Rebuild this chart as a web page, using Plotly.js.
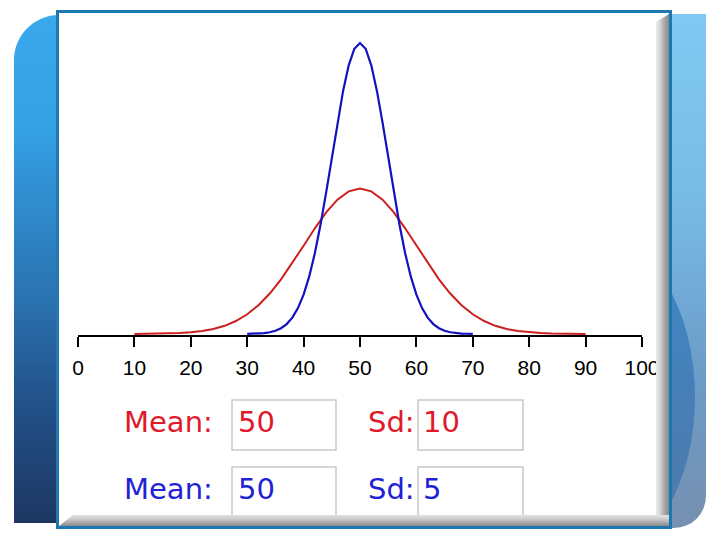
<!DOCTYPE html>
<html>
<head>
<meta charset="utf-8">
<script src="https://cdn.plot.ly/plotly-3.0.1.min.js"></script>
<style>
  html, body { margin:0; padding:0; background:#ffffff; }
  #wrap { position:relative; width:720px; height:540px; overflow:hidden; background:#ffffff; }
  .abs { position:absolute; }
  #leftShape { left:14px; top:15px; width:50px; height:508px; border-top-left-radius:45px;
    background:linear-gradient(to bottom, #3aa8ec 0%, #35a2e6 22%, #3190d2 34%, #2a72b0 56%, #22518a 76%, #1d3762 100%); }
  #rightShape { left:664px; top:14px; width:42px; height:514px; border-bottom-right-radius:32px; overflow:hidden;
    background:linear-gradient(to bottom, #80c9f2 0%, #78bce6 35%, #6c9cc8 70%, #7690b0 100%); }
  #crescent { left:-159px; top:225px; width:190px; height:316px; border-radius:50%;
    background:linear-gradient(to bottom, #3a88c8 0%, #4680b8 45%, #5078a6 100%); }
  #frame { left:56px; top:10px; width:616px; height:519px; box-sizing:border-box;
    border:3px solid #1b78b0; background:#ffffff; }
  #plot { left:0; top:0; width:720px; height:540px; z-index:1; }
  #bevelR { left:656px; top:14px; width:13px; height:512px; z-index:2; pointer-events:none;
    background:linear-gradient(to right, #ececec 0%, #d6d6d6 30%, #b4b4b4 55%, #9a9a9a 80%, #8c8c8c 100%);
    clip-path:polygon(0 8px, 100% 0, 100% 100%, 0 100%); }
  #bevelB { left:59px; top:515px; width:610px; height:11px; z-index:2; pointer-events:none;
    background:linear-gradient(to bottom, #e2e2e2 0%, #cdcdcd 35%, #a8a8a8 70%, #8a8a8a 100%);
    clip-path:polygon(14px 0, 100% 0, 100% 100%, 0 100%); }
</style>
</head>
<body>
<div id="wrap">
  <div id="leftShape" class="abs"></div>
  <div id="rightShape" class="abs"><div id="crescent" class="abs"></div></div>
  <div id="frame" class="abs"></div>
  <div id="plot" class="abs"></div>
  <div id="bevelR" class="abs"></div>
  <div id="bevelB" class="abs"></div>
</div>
<script>
// ---- data ----
// Red curve (Mean 50, Sd 10), density x1000
const redX = [10,12,14,16,18,20,22,24,26,28,30,32,34,36,38,40,42,44,46,48,50,
              52,54,56,58,60,62,64,66,68,70,72,74,76,78,80,82,84,86,88,90];
const redY = [0.013,0.029,0.061,0.123,0.238,0.443,0.792,1.358,2.239,3.547,5.399,
              7.895,11.092,14.973,19.419,24.197,28.969,33.322,36.827,39.104,39.894,
              39.104,36.827,33.322,28.969,24.197,19.419,14.973,11.092,7.895,5.399,
              3.547,2.239,1.358,0.792,0.443,0.238,0.123,0.061,0.029,0.013];
// Blue curve (Mean 50, Sd 5), density x1000
const blueX = [30,31,32,33,34,35,36,37,38,39,40,41,42,43,44,45,46,47,48,49,50,
               51,52,53,54,55,56,57,58,59,60,61,62,63,64,65,66,67,68,69,70];
const blueY = [0.027,0.058,0.122,0.246,0.477,0.886,1.583,2.716,4.478,7.094,10.798,
               15.790,22.184,29.945,38.837,48.394,57.938,66.645,73.654,78.209,79.788,
               78.209,73.654,66.645,57.938,48.394,38.837,29.945,22.184,15.790,10.798,
               7.094,4.478,2.716,1.583,0.886,0.477,0.246,0.122,0.058,0.027];
const tickVals = [0,10,20,30,40,50,60,70,80,90,100];
const tickText = ['0','10','20','30','40','50','60','70','80','90','100'];
const formLabels = ['Mean:', 'Sd:'];
const redValues = ['50', '10'];
const blueValues = ['50', '5'];

// ---- layout helpers (pixel -> paper) ----
const L = 78, R = 642, T = 20, B = 335;
const px = x => (x - L) / (R - L);
const py = y => (B - y) / (B - T);

const RED = '#cc1f1f', BLUE = '#1212c0';
const RED_T = '#e0192a', BLUE_T = '#2222d4';

const traces = [
  {x: redX, y: redY, type: 'scatter', mode: 'lines', line: {color: RED, width: 2}, hoverinfo: 'skip'},
  {x: blueX, y: blueY, type: 'scatter', mode: 'lines', line: {color: BLUE, width: 2.2}, hoverinfo: 'skip'}
];

const boxes = [[232,336,400,450],[418,523,400,450],[232,336,467,522],[418,523,467,522]];
const shapes = boxes.map(b => ({
  type: 'rect', xref: 'paper', yref: 'paper',
  x0: px(b[0]), x1: px(b[1]), y0: py(b[2]), y1: py(b[3]),
  line: {color: '#c9c9c9', width: 1.5}, fillcolor: '#ffffff', layer: 'below'
}));

const ann = [];
function addText(t, x, y, color) {
  ann.push({text: t, xref: 'paper', yref: 'paper', x: px(x), y: py(y),
    xanchor: 'left', yanchor: 'middle', showarrow: false,
    font: {family: 'DejaVu Sans', size: 29, color: color}});
}
const rowY = [422, 489];
const colX = [[122, 236], [366, 421]];
formLabels.forEach((lab, i) => {
  addText(lab, colX[i][0], rowY[0], RED_T);
  addText(redValues[i], colX[i][1], rowY[0], RED_T);
  addText(lab, colX[i][0], rowY[1], BLUE_T);
  addText(blueValues[i], colX[i][1], rowY[1], BLUE_T);
});

const ymin = -0.28, scale = 79.788 / 291;
const layout = {
  width: 720, height: 540,
  margin: {l: L, r: 720 - R, t: T, b: 540 - B, pad: 0},
  paper_bgcolor: 'rgba(0,0,0,0)', plot_bgcolor: 'rgba(0,0,0,0)',
  showlegend: false,
  xaxis: {
    range: [0, 100], tickvals: tickVals, ticktext: tickText,
    showgrid: false, zeroline: false, showline: true, linecolor: '#000', linewidth: 2,
    ticks: 'outside', ticklen: 10, tickwidth: 2, tickcolor: '#000',
    ticklabelstandoff: 3, layer: 'below traces',
    tickfont: {family: 'Liberation Sans', size: 21, color: '#000'}, fixedrange: true
  },
  yaxis: {
    range: [ymin, ymin + (B - T) * scale], visible: false, showgrid: false, zeroline: false, fixedrange: true
  },
  shapes: shapes,
  annotations: ann
};
Plotly.newPlot('plot', traces, layout, {staticPlot: true, displayModeBar: false});
</script>
</body>
</html>
